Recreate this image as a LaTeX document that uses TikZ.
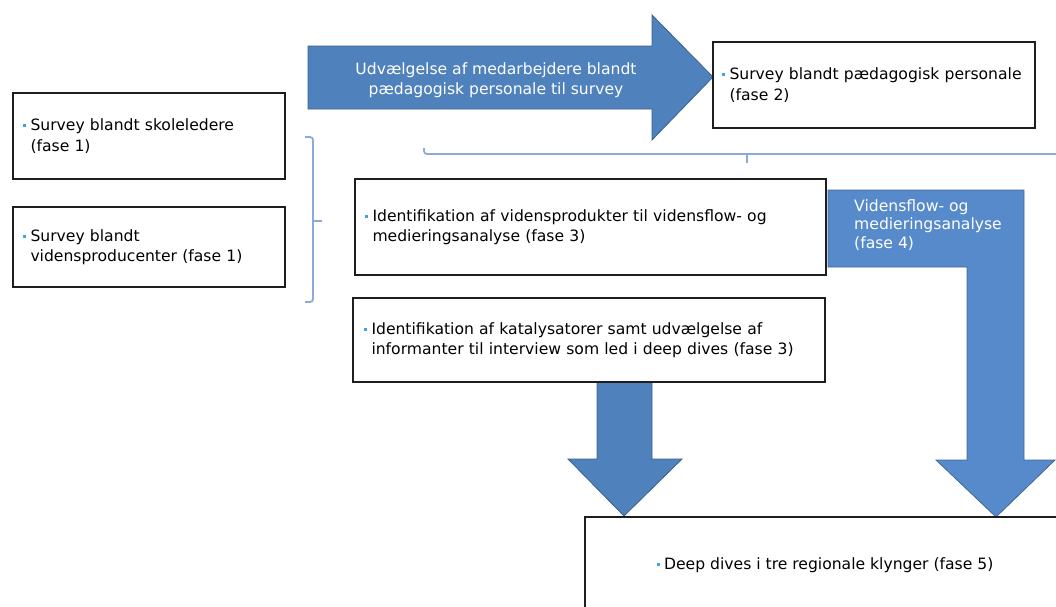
\documentclass[tikz,border=0pt]{standalone}
\usepackage{fontspec}
\setmainfont{DejaVu Sans}
\usetikzlibrary{positioning}
\definecolor{arrowblue}{RGB}{79,129,189}
\definecolor{arrowedge}{RGB}{58,96,142}
\definecolor{flowblue}{RGB}{86,138,202}
\definecolor{bracketblue}{RGB}{140,170,215}
\definecolor{bulletblue}{RGB}{60,165,225}
\definecolor{boxline}{RGB}{30,30,30}
\newcommand{\bul}{\makebox[7.5pt][l]{\raisebox{3.4pt}{\textcolor{bulletblue}{\rule{3pt}{3pt}}}}}
\newcommand{\bulsp}{\hspace*{7.5pt}}

\begin{document}
\begin{tikzpicture}[x=1pt,y=-1pt,
    txt/.style={font=\fontsize{15.6}{20.5}\selectfont},
    box/.style={draw=boxline, line width=1.3pt, fill=white, inner xsep=10pt, inner ysep=0pt, align=left, txt},
    blockarrow/.style={fill=arrowblue, draw=arrowedge, line width=0.8pt, line join=miter},
    brace/.style={draw=bracketblue, line width=1.8pt, rounded corners=3pt}]
    \useasboundingbox (0,0) rectangle (1056,606);
    \clip (0,0) rectangle (1056,606);

    % block arrows
    \draw[blockarrow] (308,46) -- (652,46) -- (652,15) -- (713,77) -- (652,140) -- (652,109) -- (308,109) -- cycle;
    \draw[blockarrow] (597,382) -- (652,382) -- (652,459) -- (682,459) -- (624,516) -- (568,459) -- (597,459) -- cycle;
    \draw[blockarrow, fill=flowblue, draw=flowblue!75!black] (828,190) -- (1024,190) -- (1024,460) -- (1055,460) -- (996,517) -- (936,460) -- (967,460) -- (967,267) -- (828,267) -- cycle;

    \node[txt, text=white, align=center] (udv) at (496,80) {Udvælgelse af medarbejdere blandt\\pædagogisk personale til survey};
    \node[txt, text=white, align=left, anchor=north west, inner sep=0pt, font=\fontsize{15.6}{18.5}\selectfont] (vidflow) at (854,199) {Vidensflow- og\\medieringsanalyse\\(fase 4)};

    % boxes
    \node[box, text width=252pt, minimum height=86pt] (skole) at (149,136) {\bul Survey blandt skoleledere\\\bulsp(fase 1)};
    \node[box, text width=252pt, minimum height=80pt] (vidprod) at (149,247) {\bul Survey blandt\\\bulsp vidensproducenter (fase 1)};
    \node[box, text width=304pt, minimum height=86pt, inner xsep=9pt] (paed) at (874,85) {\bul Survey blandt pædagogisk personale\\\bulsp(fase 2)};
    \node[box, text width=451pt, minimum height=96pt] (ident) at (590.5,227) {\bul Identifikation af vidensprodukter til vidensflow- og\\\bulsp medieringsanalyse (fase 3)};
    \node[box, text width=450pt, minimum height=84pt, inner xsep=11pt] (katal) at (589,340) {\bul Identifikation af katalysatorer samt udvælgelse af\\\bulsp informanter til interview som led i deep dives (fase 3)};
    \node[box, align=center, minimum width=480pt, minimum height=96pt] (deep) at (825,565) {\bul Deep dives i tre regionale klynger (fase 5)};

    % brackets
    \draw[brace] (305,137) -- (313,137) -- (313,302) -- (305,302);
    \draw[brace] (313,221) -- (322,221);
    \draw[brace] (424,148) -- (424,154) -- (1062,154);
    \draw[brace] (747,154) -- (747,163);
\end{tikzpicture}
\end{document}
